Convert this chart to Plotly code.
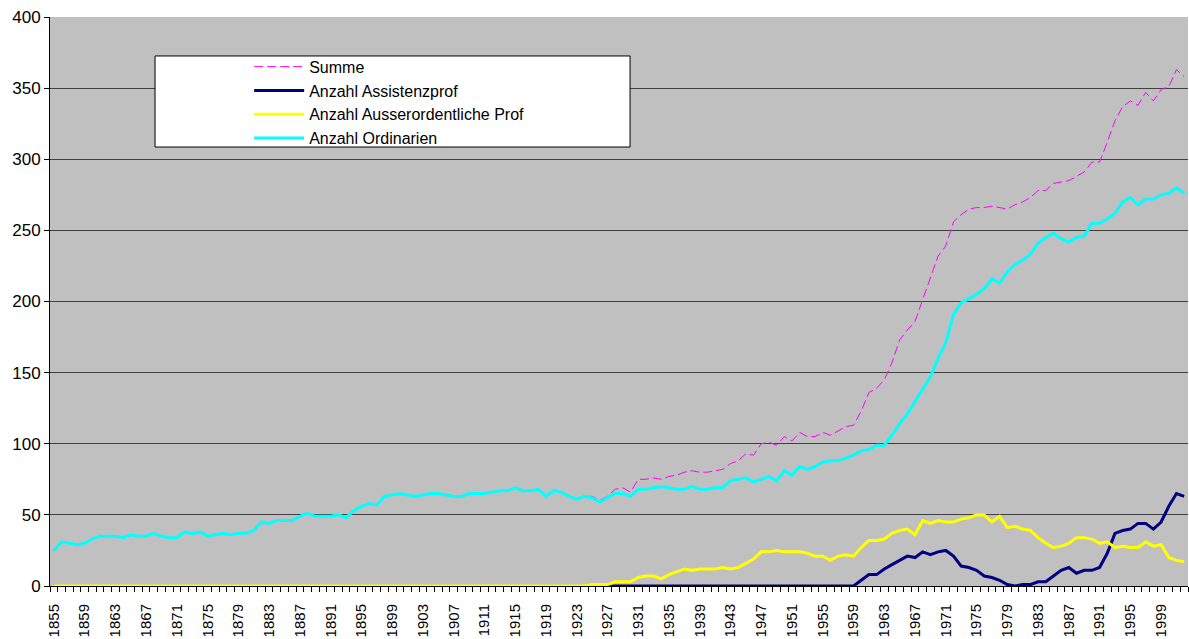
import plotly.graph_objects as go

years = list(range(1855, 2003))

ordinarien = [
    25, 31, 30, 29, 30, 33, 35, 35, 35, 34,
    36, 35, 35, 37, 35, 34, 34, 38, 37, 38,
    35, 36, 37, 36, 37, 37, 39, 45, 44, 46,
    46, 46, 49, 51, 49, 49, 49, 50, 48, 53,
    56, 58, 57, 63, 64, 65, 64, 63, 64, 65,
    65, 64, 63, 63, 65, 65, 65, 66, 67, 67,
    69, 67, 67, 68, 63, 67, 66, 63, 61, 63,
    62, 59, 62, 65, 65, 63, 68, 68, 69, 70,
    69, 68, 68, 70, 68, 68, 69, 69, 74, 75,
    76, 73, 75, 77, 74, 81, 78, 84, 82, 84,
    87, 88, 88, 90, 92, 95, 96, 99, 99, 106,
    114, 121, 130, 138, 147, 160, 171, 191, 199, 202,
    205, 209, 216, 213, 221, 226, 229, 233, 241, 245,
    248, 244, 242, 245, 246, 255, 255, 258, 262, 270,
    273, 268, 272, 272, 275, 276, 280, 276,
]

summe = [
    25, 31, 30, 29, 30, 33, 35, 35, 35, 34,
    36, 35, 35, 37, 35, 34, 34, 38, 37, 38,
    35, 36, 37, 36, 37, 37, 39, 45, 44, 46,
    46, 46, 49, 51, 49, 49, 49, 50, 48, 53,
    56, 58, 57, 63, 64, 65, 64, 63, 64, 65,
    65, 64, 63, 63, 65, 65, 65, 66, 67, 67,
    69, 67, 67, 68, 63, 67, 66, 63, 61, 63,
    63, 60, 63, 68, 69, 66, 75, 75, 76, 75,
    77, 78, 80, 81, 80, 80, 81, 82, 86, 88,
    93, 92, 100, 101, 99, 105, 102, 108, 105, 105,
    108, 106, 109, 112, 113, 123, 136, 139, 145, 157,
    173, 180, 186, 201, 216, 232, 239, 256, 261, 265,
    266, 266, 267, 266, 265, 268, 270, 273, 278, 278,
    283, 284, 285, 288, 291, 298, 298, 312, 327, 337,
    341, 338, 347, 341, 349, 351, 363, 358,
]

ausserordentliche = [
    0, 0, 0, 0, 0, 0, 0, 0, 0, 0,
    0, 0, 0, 0, 0, 0, 0, 0, 0, 0,
    0, 0, 0, 0, 0, 0, 0, 0, 0, 0,
    0, 0, 0, 0, 0, 0, 0, 0, 0, 0,
    0, 0, 0, 0, 0, 0, 0, 0, 0, 0,
    0, 0, 0, 0, 0, 0, 0, 0, 0, 0,
    0, 0, 0, 0, 0, 0, 0, 0, 0, 0,
    1, 1, 1, 3, 3, 3, 6, 7, 7, 5,
    8, 10, 12, 11, 12, 12, 12, 13, 12, 13,
    16, 19, 24, 24, 25, 24, 24, 24, 23, 21,
    21, 18, 21, 22, 21, 27, 32, 32, 33, 37,
    39, 40, 36, 46, 44, 46, 45, 45, 47, 48,
    50, 50, 45, 49, 41, 42, 40, 39, 34, 30,
    27, 28, 30, 34, 34, 33, 30, 31, 27, 28,
    27, 27, 31, 28, 29, 20, 18, 17,
]

N = None
assistenz = [
    N, N, N, N, N, N, N, N, N, N,
    N, N, N, N, N, N, N, N, N, N,
    N, N, N, N, N, N, N, N, N, N,
    N, N, N, N, N, N, N, N, N, N,
    N, N, N, N, N, N, N, N, N, N,
    N, N, N, N, N, N, N, N, N, N,
    N, N, N, N, N, N, N, N, N, N,
    N, N, 0, 0, 0, 0, 0, 0, 0, 0,
    0, 0, 0, 0, 0, 0, 0, 0, 0, 0,
    0, 0, 0, 0, 0, 0, 0, 0, 0, 0,
    0, 0, 0, 0, 0, 4, 8, 8, 12, 15,
    18, 21, 20, 24, 22, 24, 25, 21, 14, 13,
    11, 7, 6, 4, 1, 0, 1, 1, 3, 3,
    7, 11, 13, 9, 11, 11, 13, 23, 37, 39,
    40, 44, 44, 40, 45, 56, 65, 63,
]

tick_years = years[::4]

FONT = "Arial, Liberation Sans, sans-serif"

fig = go.Figure()
fig.add_trace(go.Scatter(x=years, y=summe, name="Summe", mode="lines",
                         line=dict(color="#FF00FF", width=1, dash="9px,4px")))
fig.add_trace(go.Scatter(x=years, y=assistenz, name="Anzahl Assistenzprof", mode="lines",
                         line=dict(color="#000080", width=3)))
fig.add_trace(go.Scatter(x=years, y=ausserordentliche, name="Anzahl Ausserordentliche Prof",
                         mode="lines", line=dict(color="#FFFF00", width=3)))
fig.add_trace(go.Scatter(x=years, y=ordinarien, name="Anzahl Ordinarien", mode="lines",
                         line=dict(color="#00FFFF", width=3)))

# legend frame
fig.add_shape(type="rect", xref="paper", yref="paper",
              x0=0.0923, x1=0.5097, y0=0.7715, y1=0.9315,
              fillcolor="white", line=dict(color="black", width=1), layer="above")

fig.update_layout(
    width=1189, height=639,
    margin=dict(l=50, r=1, t=17, b=53),
    paper_bgcolor="white",
    plot_bgcolor="#C0C0C0",
    font=dict(family=FONT, color="black", size=15),
    showlegend=True,
    legend=dict(x=0.175, y=0.9425, xanchor="left", yanchor="top",
                bgcolor="rgba(0,0,0,0)", borderwidth=0,
                font=dict(family=FONT, size=16, color="black"),
                itemwidth=50, tracegroupgap=0),
    xaxis=dict(
        range=[1854.5, 2002.5], automargin=False,
        tickmode="array", tickvals=tick_years, ticktext=[str(y) for y in tick_years],
        tickangle=-90, ticks="", showgrid=False, zeroline=False,
        showline=True, linecolor="black", linewidth=1,
        ticklabelstandoff=11,
        tickfont=dict(family=FONT, size=15, color="black"),
        minor=dict(tickmode="linear", tick0=1854.5, dtick=1, ticks="outside",
                   ticklen=5, tickcolor="black", showgrid=False),
    ),
    yaxis=dict(
        range=[0, 400], dtick=50, tick0=0, automargin=False,
        showgrid=True, gridcolor="#404040", gridwidth=1,
        zeroline=False, showline=True, linecolor="black", linewidth=1,
        ticks="outside", ticklen=5, tickcolor="black",
        tickfont=dict(family=FONT, size=17, color="black"),
    ),
)

fig.write_html("out.html", config={"displayModeBar": False},
               post_script="document.body.style.margin='0';document.body.style.overflow='hidden';")
